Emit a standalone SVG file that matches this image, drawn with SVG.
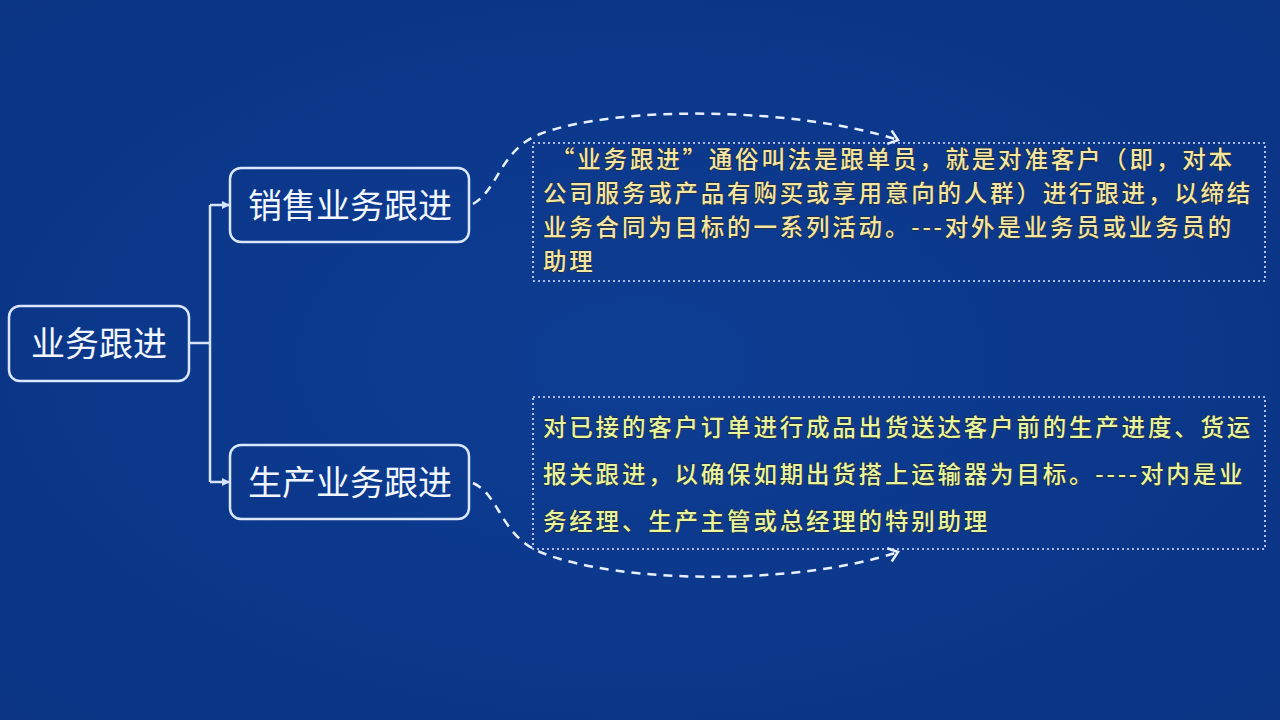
<svg xmlns="http://www.w3.org/2000/svg" width="1280" height="720" viewBox="0 0 1280 720">
<defs>
<radialGradient id="bg" cx="0.5" cy="0.5" r="0.75">
<stop offset="0" stop-color="#0d3d93"/>
<stop offset="1" stop-color="#0a3383"/>
</radialGradient>
<marker id="tri" markerWidth="8" markerHeight="8" refX="7" refY="4" orient="auto" markerUnits="userSpaceOnUse">
<path d="M0,0 L8,4 L0,8 Z" fill="#d6e4ff"/>
</marker>
<marker id="vee" markerWidth="16" markerHeight="16" refX="12" refY="8" orient="auto" markerUnits="userSpaceOnUse">
<path d="M3,1 L12,8 L3,15" fill="none" stroke="#e8f0ff" stroke-width="2.5"/>
</marker>
</defs>
<style>
.node rect{fill:none;stroke:#dbe7ff;stroke-width:2.5}
.node text{font-family:"Noto Sans CJK SC","Noto Sans",sans-serif;font-size:34px;fill:#f2f6ff;text-anchor:middle}
.wire{fill:none;stroke:#d6e4ff;stroke-width:2.5}
.curve{fill:none;stroke:#e8f0ff;stroke-width:2.5;stroke-dasharray:9 7}
.note rect{fill:none;stroke:#dbe6ff;stroke-width:1.6;stroke-dasharray:2 3}
.note text{font-family:"Noto Sans CJK SC","Noto Sans",sans-serif;font-size:23.5px;letter-spacing:2.8px;font-weight:500;stroke:#2a2a30;stroke-width:1.2;paint-order:stroke;stroke-linejoin:round}
.t1{fill:#f2e6a4}
.t2{fill:#e6f6a0}
</style>
<rect width="1280" height="720" fill="url(#bg)"/>

<g id="connectors">
<path class="wire" d="M189,343 H210"/>
<path class="wire" d="M210,205 V482"/>
<path class="wire" d="M210,205 H229" marker-end="url(#tri)"/>
<path class="wire" d="M210,482 H229" marker-end="url(#tri)"/>
<path class="curve" d="M473,204 C498,190 500,150 540,134 C620,104 800,108 898,140" marker-end="url(#vee)"/>
<path class="curve" d="M473,483 C500,495 500,535 540,552 C620,585 800,585 898,552" marker-end="url(#vee)"/>
</g>

<g id="root" class="node">
<rect x="9" y="306" width="180" height="75" rx="11"/>
<text x="99" y="356">业务跟进</text>
</g>

<g id="sales" class="node">
<rect x="230" y="168" width="239" height="74" rx="11"/>
<text x="350" y="218">销售业务跟进</text>
</g>

<g id="production" class="node">
<rect x="230" y="445" width="239" height="74" rx="11"/>
<text x="350" y="495">生产业务跟进</text>
</g>

<g id="note-sales" class="note">
<rect x="533" y="143" width="732" height="138"/>
<text class="t1" x="551" y="168">“业务跟进”通俗叫法是跟单员，就是对准客户（即，对本</text>
<text class="t1" x="543" y="202">公司服务或产品有购买或享用意向的人群）进行跟进，以缔结</text>
<text class="t1" x="543" y="236">业务合同为目标的一系列活动。---对外是业务员或业务员的</text>
<text class="t1" x="543" y="270">助理</text>
</g>

<g id="note-production" class="note">
<rect x="533" y="397" width="732" height="152"/>
<text class="t2" x="543" y="436">对已接的客户订单进行成品出货送达客户前的生产进度、货运</text>
<text class="t2" x="543" y="483">报关跟进，以确保如期出货搭上运输器为目标。----对内是业</text>
<text class="t2" x="543" y="530">务经理、生产主管或总经理的特别助理</text>
</g>
</svg>
